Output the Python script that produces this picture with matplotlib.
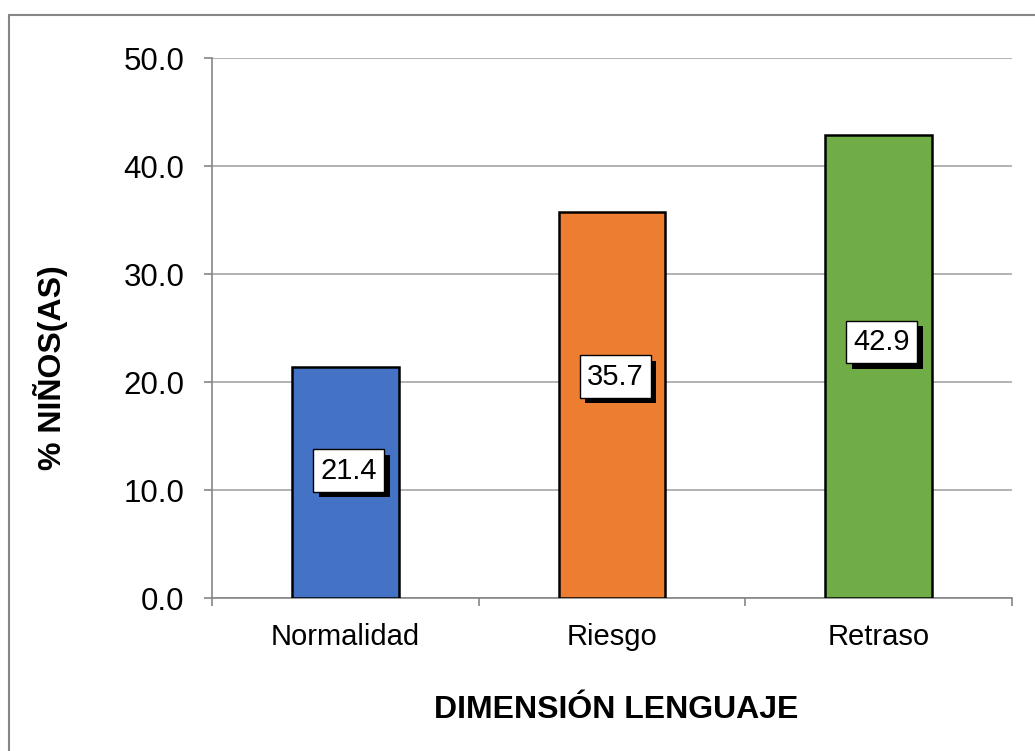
import matplotlib
matplotlib.use("Agg")
import matplotlib.pyplot as plt
from matplotlib.patches import Rectangle
import matplotlib.patheffects as pe

categories = ["Normalidad", "Riesgo", "Retraso"]
values = [21.4, 35.7, 42.9]
label_pos = [11.8, 20.5, 23.7]
colors = ["#4472C4", "#ED7D31", "#70AD47"]
yticks = [0, 10, 20, 30, 40, 50]
ytick_labels = ["0.0", "10.0", "20.0", "30.0", "40.0", "50.0"]

plt.rcParams['font.family'] = ['Liberation Sans', 'DejaVu Sans']

W, H = 1035, 751
fig = plt.figure(figsize=(W / 100, H / 100), dpi=100)
fig.patch.set_facecolor("white")

# outer chart border
fig.patches.append(Rectangle((9 / W, -0.1), 1.2, 1 - 15 / H + 0.1,
                             transform=fig.transFigure, fill=False,
                             edgecolor="#868686", linewidth=1.5, zorder=0))

ax = fig.add_axes([212 / W, 1 - 598 / H, 800 / W, 540 / H])
x = list(range(len(categories)))
ax.bar(x, values, width=0.4, color=colors, edgecolor="black", linewidth=1.8, zorder=3)

ax.set_xlim(-0.5, 2.5)
ax.set_ylim(0, 50)
ax.set_yticks(yticks)
ax.set_yticklabels(ytick_labels, fontsize=22.5)
ax.set_xticks(x)
ax.set_xticklabels(categories, fontsize=21)
ax.set_xticks([-0.5, 0.5, 1.5, 2.5], minor=True)
ax.tick_params(axis="x", which="major", length=0, pad=18)
ax.tick_params(axis="x", which="minor", length=6, color="#868686", width=1.2)
ax.tick_params(axis="y", which="major", length=6, color="#868686", width=1.2, pad=14)

ax.grid(axis="y", color="#A6A6A6", linewidth=1.2, zorder=0)
ax.set_axisbelow(True)
for s in ["top", "right"]:
    ax.spines[s].set_visible(False)
ax.spines["left"].set_color("#868686")
ax.spines["bottom"].set_color("#868686")
ax.spines["left"].set_linewidth(1.2)
ax.spines["bottom"].set_linewidth(1.2)

for xi, v, yp in zip(x, values, label_pos):
    t = ax.annotate(f"{v:.1f}", (xi + 0.012, yp), ha="center", va="center", fontsize=21,
                    color="black", zorder=5,
                    bbox=dict(boxstyle="square,pad=0.25", facecolor="white",
                              edgecolor="black", linewidth=1.0))
    t.get_bbox_patch().set_path_effects([
        pe.SimplePatchShadow(offset=(4, -4), shadow_rgbFace="black", alpha=1.0),
        pe.Normal()])

fig.text(616 / W, 1 - 710 / H, "DIMENSIÓN LENGUAJE", ha="center", va="center",
         fontsize=23, fontweight="bold")
fig.text(50 / W, 1 - 368 / H, "% NIÑOS(AS)", ha="center", va="center",
         rotation=90, fontsize=23, fontweight="bold")

fig.savefig("out.png", dpi=100, facecolor="white")
